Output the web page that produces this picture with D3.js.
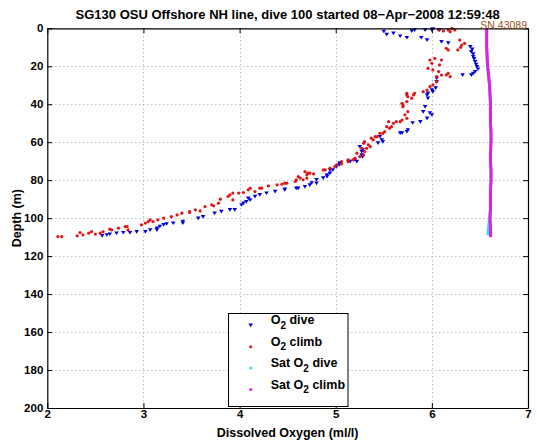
<!DOCTYPE html>
<html>
<head>
<meta charset="utf-8">
<script src="https://cdn.jsdelivr.net/npm/d3@7"></script>
<style>
  html, body { margin: 0; padding: 0; background: #fff; }
  svg { display: block; font-family: "Liberation Sans", Arial, Helvetica, sans-serif; }
</style>
</head>
<body>
<svg id="chart" width="537" height="442"></svg>
<script>
// ---------------- data ----------------
const titleText = "SG130 OSU Offshore NH line, dive 100 started 08\u2212Apr\u22122008 12:59:48";
const serialText = "SN 43089";
const xLabel = "Dissolved Oxygen (ml/l)";
const yLabel = "Depth (m)";
const xTicks = [2, 3, 4, 5, 6, 7];
const yTicks = [0, 20, 40, 60, 80, 100, 120, 140, 160, 180, 200];

// O2 dive (ml/l) and depth (m)
const diveO2 = [5.50,5.53,5.60,5.67,5.74,5.79,5.82,5.89,5.95,5.93,6.00,6.01,6.08,6.10,6.17,
  6.40,6.42,6.41,6.43,6.43,6.44,6.45,6.46,6.47,6.48,6.45,6.43,6.41,6.32,
  6.05,6.05,6.04,6.00,6.01,5.96,5.95,5.96,5.93,5.91,5.98,6.00,5.95,5.88,5.80,5.75,5.74,5.69,5.67,
  5.46,5.48,5.49,5.44,5.25,5.28,5.27,5.27,5.28,5.20,5.22,5.15,5.13,5.04,5.04,5.01,
  4.97,4.94,4.94,4.91,4.91,4.87,4.80,4.80,4.75,4.73,4.68,4.61,4.59,4.47,4.47,4.37,4.28,4.21,4.16,
  4.09,4.11,4.07,4.04,4.02,3.95,3.90,3.81,3.74,3.62,3.57,3.41,3.41,3.31,3.24,3.21,3.17,3.14,3.14,
  3.07,3.02,2.93,2.86,2.79,2.72,2.65,2.62,2.57];
const diveDepth = [1.6,3.2,2.6,4.1,4.9,1.4,0.9,4.9,6.2,0.9,0.9,0.4,0.9,7.1,7.7,
  9.7,11.0,12.3,13.5,14.9,16.0,17.6,19.0,20.2,21.5,22.8,23.8,24.6,24.6,
  26.3,28.1,31.4,32.5,33.4,34.2,35.1,36.8,41.3,43.9,44.6,45.6,47.4,49.2,49.8,53.5,54.4,55.1,55.1,
  57.1,58.8,59.7,60.4,62.3,64.1,64.9,66.7,67.6,69.3,70.2,70.2,70.2,70.9,71.9,72.8,
  74.6,74.6,76.3,77.2,78.1,78.8,79.8,81.6,81.4,82.5,83.4,84.2,84.2,84.7,85.1,86.0,86.8,87.7,88.6,
  89.5,90.4,91.3,92.1,93.0,95.6,95.6,96.5,97.4,99.2,100.0,101.8,102.6,102.6,103.0,103.5,104.4,105.3,106.2,
  106.2,107.1,107.1,107.6,107.6,107.9,108.4,108.8,109.3];

// O2 climb (ml/l) and depth (m)
const climbO2 = [6.07,6.12,6.17,6.19,6.21,6.24,6.29,6.34,6.31,6.15,6.17,6.27,6.30,
  6.03,6.10,5.98,6.00,6.08,5.96,6.01,6.07,6.17,6.10,6.15,6.05,6.19,
  6.05,6.01,5.98,5.95,5.91,5.74,5.82,5.74,5.81,5.75,5.79,5.74,5.69,5.70,5.70,5.75,5.72,5.74,
  5.69,5.67,5.63,5.55,5.60,5.53,5.58,5.56,5.51,5.49,5.46,5.41,5.43,5.37,5.39,5.30,5.29,5.34,
  5.36,5.27,5.32,5.30,5.22,5.29,5.25,5.20,5.13,5.18,5.06,5.13,5.06,5.01,4.99,4.94,4.89,4.87,
  4.68,4.73,4.71,4.77,4.70,4.61,4.70,4.63,4.66,4.59,4.58,4.49,4.47,4.44,4.39,4.30,4.23,4.11,
  4.21,4.09,4.16,4.04,3.99,3.93,3.90,3.88,3.80,3.93,3.78,3.71,3.73,3.64,3.54,3.59,3.48,3.40,
  3.48,3.35,3.29,3.21,3.15,3.07,3.10,3.05,3.02,2.98,2.81,2.83,2.74,2.67,2.84,2.65,2.58,2.55,
  2.50,2.46,2.43,2.37,2.34,2.31,2.15,2.11];
const climbDepth = [0.9,1.4,0.9,1.8,0.0,0.9,6.2,7.9,8.8,10.5,11.4,11.4,10.0,
  15.8,16.7,16.7,18.4,19.3,21.1,21.9,22.8,23.7,24.6,24.6,25.5,25.5,
  28.1,29.8,30.7,32.5,33.4,34.2,34.2,35.1,35.1,36.0,36.8,38.6,39.5,40.4,41.3,43.9,45.6,47.4,
  48.3,49.2,49.2,49.2,50.0,51.8,51.8,52.6,54.4,55.3,55.3,57.1,57.1,57.9,58.8,59.7,60.5,61.4,
  62.3,63.2,63.2,64.9,65.8,66.7,67.6,68.4,69.3,69.3,70.2,70.2,71.4,71.9,72.8,73.7,74.6,74.6,
  75.5,76.3,76.3,76.7,77.2,78.1,78.9,78.9,79.8,79.8,80.7,81.6,81.6,82.1,82.5,83.0,84.2,84.2,
  84.2,85.1,86.0,86.5,86.8,86.8,87.7,88.6,90.0,90.4,92.1,93.0,93.5,93.9,95.6,96.2,96.5,97.4,
  97.0,98.3,99.2,100.0,100.9,100.9,101.8,101.8,102.6,103.5,104.4,104.4,105.3,106.2,106.2,105.8,107.1,107.9,
  108.4,107.1,107.9,108.8,107.6,109.3,109.7,109.7];

// Saturation O2 (ml/l) vs depth (m)
const satDiveO2    = [6.57,6.57,6.57,6.575,6.58,6.59,6.60,6.605,6.61,6.61,6.61,6.615,6.615,6.61,6.61,6.615,6.615,6.61,6.61,6.61,6.60,6.59,6.585];
const satDiveDepth = [0,5,10,15,20,25,30,35,40,45,50,55,60,65,70,75,80,85,90,95,100,105,109];
const satClimbO2    = [6.57,6.57,6.57,6.575,6.58,6.59,6.60,6.605,6.61,6.61,6.61,6.615,6.615,6.61,6.61,6.615,6.615,6.61,6.61,6.61,6.605,6.61,6.61];
const satClimbDepth = [0,5,10,15,20,25,30,35,40,45,50,55,60,65,70,75,80,85,90,95,100,105,110];

// ---------------- drawing ----------------
const svg = d3.select("#chart");
const L = 47.3, R = 528, T = 28.3, B = 408;
const x = d3.scaleLinear().domain([2, 7]).range([L, R]);
const y = d3.scaleLinear().domain([0, 200]).range([T, B]);

const cBlue = "#0000e0", cRed = "#e01515", cCyan = "#33dde8", cMag = "#e020e8";

// grid
const grid = svg.append("g").attr("stroke", "#8a8a8a").attr("stroke-width", 0.8)
  .attr("stroke-dasharray", "1,3");
grid.selectAll(".gx").data(xTicks.slice(1, -1)).join("line")
  .attr("x1", d => Math.round(x(d)) + 0.5).attr("x2", d => Math.round(x(d)) + 0.5)
  .attr("y1", T).attr("y2", B);
grid.selectAll(".gy").data(yTicks.slice(1, -1)).join("line")
  .attr("y1", d => Math.round(y(d)) + 0.5).attr("y2", d => Math.round(y(d)) + 0.5)
  .attr("x1", L).attr("x2", R);

// sat lines
const satLine = (xs, ys) => d3.line().x((d, i) => x(xs[i])).y((d, i) => y(ys[i]))(xs);
svg.append("path").attr("d", satLine(satDiveO2, satDiveDepth))
  .attr("fill", "none").attr("stroke", cCyan).attr("stroke-width", 3);
svg.append("path").attr("d", satLine(satClimbO2, satClimbDepth))
  .attr("fill", "none").attr("stroke", cMag).attr("stroke-width", 3);

// markers
const tri = "M-2.3,-1.7L2.3,-1.7L0,2Z";
svg.append("g").selectAll("path").data(diveO2).join("path")
  .attr("d", tri)
  .attr("transform", (d, i) => `translate(${x(d)},${y(diveDepth[i])})`)
  .attr("fill", cBlue);
svg.append("g").selectAll("circle").data(climbO2).join("circle")
  .attr("cx", d => x(d)).attr("cy", (d, i) => y(climbDepth[i]))
  .attr("r", 1.6).attr("fill", cRed);

// axes
const fontAxis = "bold 11.5px 'Liberation Sans', Arial, sans-serif";
const xb = svg.append("g").attr("transform", `translate(0,${B})`)
  .call(d3.axisBottom(x).tickValues(xTicks).tickSizeInner(-5).tickSizeOuter(0).tickPadding(2).tickFormat(d3.format("d")));
const yl = svg.append("g").attr("transform", `translate(${L},0)`)
  .call(d3.axisLeft(y).tickValues(yTicks).tickSizeInner(-5).tickSizeOuter(0).tickPadding(4).tickFormat(d3.format("d")));
const xt = svg.append("g").attr("transform", `translate(0,${T})`)
  .call(d3.axisTop(x).tickValues(xTicks).tickSizeInner(-5).tickSizeOuter(0).tickFormat(""));
const yr = svg.append("g").attr("transform", `translate(${R},0)`)
  .call(d3.axisRight(y).tickValues(yTicks).tickSizeInner(-5).tickSizeOuter(0).tickFormat(""));
[xb, yl, xt, yr].forEach(g => {
  g.select(".domain").attr("stroke", "#000").attr("stroke-width", 1.2);
  g.selectAll(".tick line").attr("stroke", "#000").attr("stroke-width", 1);
  g.selectAll(".tick text").attr("fill", "#000").style("font", fontAxis);
});

// labels
svg.append("text").attr("x", (L + R) / 2).attr("y", 18.5).attr("text-anchor", "middle")
  .style("font", "bold 13px 'Liberation Sans', Arial, sans-serif").text(titleText);
svg.append("text").attr("x", 527).attr("y", 29).attr("text-anchor", "end")
  .attr("fill", "#a0501e").style("font", "10.5px 'Liberation Sans', Arial, sans-serif").text(serialText);
svg.append("text").attr("x", (L + R) / 2).attr("y", 437).attr("text-anchor", "middle")
  .style("font", "bold 12.5px 'Liberation Sans', Arial, sans-serif").text(xLabel);
svg.append("text").attr("transform", `translate(21,${(T + B) / 2}) rotate(-90)`).attr("text-anchor", "middle")
  .style("font", "bold 12.5px 'Liberation Sans', Arial, sans-serif").text(yLabel);

// legend
const legendItems = [
  {pre: "O", sub: "2", post: " dive", color: cBlue, kind: "tri"},
  {pre: "O", sub: "2", post: " climb", color: cRed, kind: "dot"},
  {pre: "Sat O", sub: "2", post: " dive", color: cCyan, kind: "dot"},
  {pre: "Sat O", sub: "2", post: " climb", color: cMag, kind: "dot"}
];
const lg = svg.append("g");
lg.append("rect").attr("x", 228.5).attr("y", 313.5).attr("width", 119.5).attr("height", 93)
  .attr("fill", "#fff").attr("stroke", "#000").attr("stroke-width", 1);
legendItems.forEach((it, i) => {
  const yb = 324.3 + i * 21.4;
  if (it.kind === "tri") {
    lg.append("path").attr("d", tri).attr("transform", `translate(250.7,${yb + 1})`).attr("fill", it.color);
  } else {
    lg.append("circle").attr("cx", 250.7).attr("cy", yb + 1).attr("r", 1.5).attr("fill", it.color);
  }
  const t = lg.append("text").attr("x", 270.7).attr("y", yb)
    .style("font", "bold 12.5px 'Liberation Sans', Arial, sans-serif");
  t.append("tspan").text(it.pre);
  t.append("tspan").attr("dy", 4.5).style("font-size", "10px").text(it.sub);
  t.append("tspan").attr("dy", -4.5).text(it.post);
});
</script>
</body>
</html>
